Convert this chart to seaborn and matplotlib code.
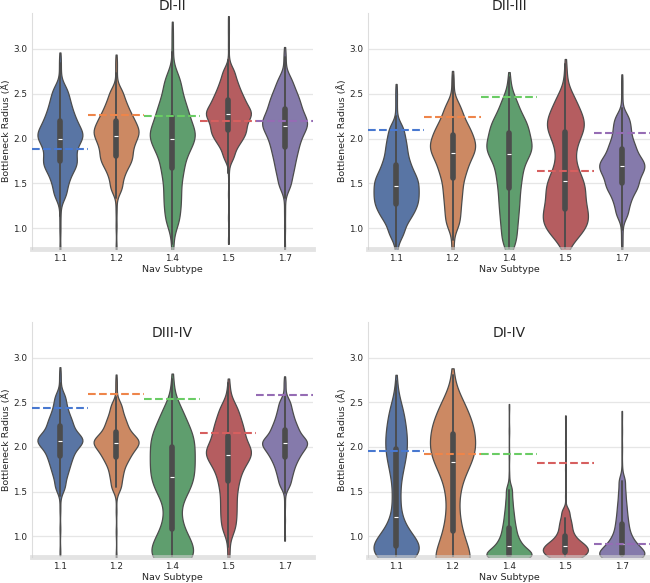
import matplotlib
matplotlib.use('Agg')
import matplotlib.pyplot as plt
import seaborn as sns
import pandas as pd

sns.set_theme(style='whitegrid')

subtypes = ['1.1', '1.2', '1.4', '1.5', '1.7']
titles = ['DI-II', 'DII-III', 'DIII-IV', 'DI-IV']

# Each violin is described by 21 equal-mass quantile points read off the
# picture (index 5 = Q1, 10 = median, 15 = Q3) plus single outliers
# (4 low, 4 high) that draw the thin tails.
CORE_WEIGHT = 10

di_ii_core = {
    '1.1': [1.38, 1.50, 1.59, 1.66, 1.71, 1.75, 1.80, 1.86, 1.91, 1.96, 2.00,
            2.03, 2.06, 2.10, 2.14, 2.19, 2.24, 2.30, 2.37, 2.45, 2.55],
    '1.2': [1.45, 1.57, 1.66, 1.72, 1.77, 1.81, 1.86, 1.91, 1.95, 1.99, 2.03,
            2.06, 2.09, 2.12, 2.16, 2.20, 2.24, 2.29, 2.35, 2.42, 2.52],
    '1.4': [1.08, 1.22, 1.34, 1.46, 1.58, 1.67, 1.76, 1.84, 1.90, 1.95, 2.00,
            2.04, 2.08, 2.12, 2.18, 2.24, 2.30, 2.37, 2.45, 2.56, 2.68],
    '1.5': [1.80, 1.91, 1.97, 2.02, 2.06, 2.09, 2.13, 2.17, 2.21, 2.24, 2.27,
            2.29, 2.32, 2.35, 2.39, 2.43, 2.47, 2.52, 2.58, 2.65, 2.75],
    '1.7': [1.48, 1.60, 1.69, 1.77, 1.84, 1.90, 1.96, 2.01, 2.06, 2.10, 2.14,
            2.17, 2.20, 2.24, 2.28, 2.33, 2.38, 2.43, 2.49, 2.56, 2.66],
}
di_ii_tails = {
    '1.1': [0.76, 0.98, 1.14, 1.27, 2.66, 2.75, 2.84, 2.92],
    '1.2': [0.78, 1.02, 1.20, 1.34, 2.63, 2.73, 2.82, 2.90],
    '1.4': [0.74, 0.82, 0.90, 0.98, 2.82, 2.96, 3.10, 3.25],
    '1.5': [0.86, 1.12, 1.38, 1.62, 2.88, 3.04, 3.19, 3.33],
    '1.7': [0.78, 1.00, 1.18, 1.34, 2.76, 2.84, 2.91, 2.98],
}

dii_iii_core = {
    '1.1': [0.95, 1.06, 1.13, 1.18, 1.23, 1.27, 1.31, 1.35, 1.39, 1.43, 1.47,
            1.51, 1.55, 1.59, 1.64, 1.70, 1.76, 1.84, 1.92, 2.01, 2.12],
    '1.2': [1.05, 1.17, 1.28, 1.38, 1.47, 1.56, 1.63, 1.69, 1.75, 1.80, 1.84,
            1.88, 1.92, 1.95, 1.99, 2.04, 2.08, 2.13, 2.19, 2.27, 2.37],
    '1.4': [0.88, 1.02, 1.14, 1.25, 1.35, 1.45, 1.54, 1.62, 1.70, 1.77, 1.83,
            1.87, 1.91, 1.95, 2.00, 2.06, 2.11, 2.16, 2.22, 2.30, 2.42],
    '1.5': [0.92, 0.99, 1.05, 1.10, 1.15, 1.21, 1.27, 1.34, 1.41, 1.47, 1.53,
            1.61, 1.72, 1.86, 1.98, 2.07, 2.13, 2.19, 2.26, 2.34, 2.46],
    '1.7': [1.16, 1.27, 1.35, 1.42, 1.46, 1.50, 1.55, 1.59, 1.63, 1.66, 1.69,
            1.72, 1.75, 1.78, 1.83, 1.88, 1.93, 1.99, 2.07, 2.15, 2.24],
}
dii_iii_tails = {
    '1.1': [0.74, 0.80, 0.86, 0.90, 2.25, 2.36, 2.47, 2.57],
    '1.2': [0.74, 0.80, 0.87, 0.95, 2.48, 2.57, 2.65, 2.71],
    '1.4': [0.70, 0.74, 0.78, 0.82, 2.50, 2.57, 2.63, 2.69],
    '1.5': [0.74, 0.78, 0.82, 0.86, 2.56, 2.65, 2.74, 2.83],
    '1.7': [0.78, 0.88, 0.98, 1.06, 2.34, 2.45, 2.57, 2.68],
}

diii_iv_core = {
    '1.1': [1.55, 1.66, 1.74, 1.80, 1.86, 1.90, 1.95, 1.99, 2.02, 2.05, 2.07,
            2.09, 2.11, 2.14, 2.18, 2.23, 2.27, 2.32, 2.38, 2.46, 2.56],
    '1.2': [1.55, 1.65, 1.73, 1.80, 1.85, 1.89, 1.93, 1.96, 1.99, 2.02, 2.04,
            2.06, 2.08, 2.10, 2.13, 2.17, 2.21, 2.26, 2.31, 2.38, 2.47],
    '1.4': [0.72, 0.78, 0.84, 0.90, 0.98, 1.08, 1.24, 1.42, 1.52, 1.60, 1.66,
            1.73, 1.80, 1.86, 1.93, 2.00, 2.06, 2.13, 2.20, 2.29, 2.42],
    '1.5': [1.08, 1.20, 1.31, 1.42, 1.53, 1.62, 1.70, 1.77, 1.82, 1.87, 1.91,
            1.94, 1.97, 2.01, 2.06, 2.12, 2.17, 2.23, 2.29, 2.37, 2.46],
    '1.7': [1.58, 1.67, 1.74, 1.80, 1.85, 1.89, 1.93, 1.96, 1.99, 2.02, 2.04,
            2.06, 2.08, 2.11, 2.15, 2.19, 2.23, 2.28, 2.34, 2.41, 2.50],
}
diii_iv_tails = {
    '1.1': [0.82, 1.08, 1.30, 1.45, 2.64, 2.72, 2.79, 2.86],
    '1.2': [0.78, 1.05, 1.28, 1.45, 2.56, 2.64, 2.71, 2.78],
    '1.4': [0.64, 0.67, 0.69, 0.71, 2.50, 2.58, 2.67, 2.76],
    '1.5': [0.74, 0.80, 0.88, 0.96, 2.55, 2.61, 2.67, 2.72],
    '1.7': [0.98, 1.18, 1.35, 1.48, 2.58, 2.65, 2.71, 2.76],
}

di_iv_core = {
    '1.1': [0.77, 0.79, 0.81, 0.83, 0.86, 0.89, 0.92, 0.96, 1.01, 1.09, 1.22,
            1.44, 1.66, 1.80, 1.90, 1.98, 2.06, 2.14, 2.23, 2.33, 2.45],
    '1.2': [0.64, 0.70, 0.77, 0.84, 0.94, 1.06, 1.24, 1.46, 1.64, 1.75, 1.83,
            1.90, 1.96, 2.01, 2.07, 2.14, 2.20, 2.26, 2.33, 2.42, 2.53],
    '1.4': [0.72, 0.75, 0.77, 0.78, 0.785, 0.79, 0.80, 0.82, 0.84, 0.86, 0.89,
            0.92, 0.95, 0.99, 1.04, 1.09, 1.15, 1.22, 1.30, 1.40, 1.52],
    '1.5': [0.72, 0.75, 0.77, 0.79, 0.805, 0.82, 0.83, 0.845, 0.86, 0.875, 0.89,
            0.905, 0.92, 0.94, 0.97, 1.00, 1.04, 1.09, 1.14, 1.20, 1.28],
    '1.7': [0.72, 0.75, 0.77, 0.78, 0.79, 0.80, 0.82, 0.84, 0.86, 0.88, 0.91,
            0.94, 0.98, 1.02, 1.08, 1.14, 1.21, 1.29, 1.38, 1.49, 1.62],
}
di_iv_tails = {
    '1.1': [0.66, 0.68, 0.70, 0.72, 2.55, 2.63, 2.70, 2.74],
    '1.2': [0.58, 0.60, 0.62, 0.64, 2.62, 2.70, 2.76, 2.81],
    '1.4': [0.64, 0.66, 0.68, 0.70, 1.68, 1.90, 2.18, 2.45],
    '1.5': [0.64, 0.66, 0.68, 0.70, 1.45, 1.75, 2.05, 2.33],
    '1.7': [0.64, 0.66, 0.68, 0.70, 1.78, 1.98, 2.18, 2.37],
}

# reference radius per subtype (dashed lines)
ref_di_ii = [1.88, 2.26, 2.25, 2.19, 2.19]
ref_dii_iii = [2.10, 2.24, 2.46, 1.64, 2.06]
ref_diii_iv = [2.43, 2.59, 2.54, 2.15, 2.58]
ref_di_iv = [1.95, 1.92, 1.92, 1.82, 0.91]

panels = [
    (di_ii_core, di_ii_tails, ref_di_ii),
    (dii_iii_core, dii_iii_tails, ref_dii_iii),
    (diii_iv_core, diii_iv_tails, ref_diii_iv),
    (di_iv_core, di_iv_tails, ref_di_iv),
]

positions = [
    [0.049, 0.573, 0.432, 0.405],
    [0.566, 0.573, 0.434, 0.405],
    [0.049, 0.045, 0.432, 0.403],
    [0.566, 0.045, 0.434, 0.403],
]

line_colors = sns.color_palette('muted', 5)

fig = plt.figure(figsize=(6.5, 5.83), dpi=100)

for i, ((core, tails, refs), title) in enumerate(zip(panels, titles)):
    rows = []
    for st in subtypes:
        values = core[st] * CORE_WEIGHT + tails[st]
        for v in values:
            rows.append({'Nav Subtype': st, 'radius': v})
    df = pd.DataFrame(rows)

    ax = fig.add_axes(positions[i])
    sns.violinplot(data=df, x='Nav Subtype', y='radius', hue='Nav Subtype',
                   order=subtypes, hue_order=subtypes, palette='deep',
                   legend=False, density_norm='width', bw_adjust=0.65,
                   cut=0.5, linewidth=0.9, ax=ax)

    ax.set_xlim(-0.5, 4.5)
    ax.set_ylim(0.77, 3.4)
    ax.set_yticks([1.0, 1.5, 2.0, 2.5, 3.0])
    for k, r in enumerate(refs):
        ax.axhline(r, xmin=k / 5, xmax=(k + 1) / 5, ls='--', lw=1.5,
                   color=line_colors[k], zorder=3)

    ax.set_ylabel('Bottleneck Radius (Å)', fontsize=6.8, labelpad=1.5)
    ax.set_xlabel('Nav Subtype', fontsize=6.8, labelpad=1)
    ax.tick_params(labelsize=6.4, length=0)
    ax.tick_params(axis='y', pad=3.5)
    ax.tick_params(axis='x', pad=4)
    ax.grid(axis='y', color='#e6e6e6', lw=0.9)
    ax.grid(axis='x', visible=False)

    sns.despine(ax=ax, top=True, right=True)
    ax.spines['left'].set_color('#dddddd')
    ax.spines['left'].set_linewidth(0.8)
    ax.spines['bottom'].set_color((0.82, 0.82, 0.82, 0.6))
    ax.spines['bottom'].set_linewidth(3.5)

    if i < 2:
        ax.set_title(title, fontsize=10, pad=2)
    else:
        ax.set_title(title, fontsize=10, y=0.9)

fig.savefig('out.png', dpi=100)
